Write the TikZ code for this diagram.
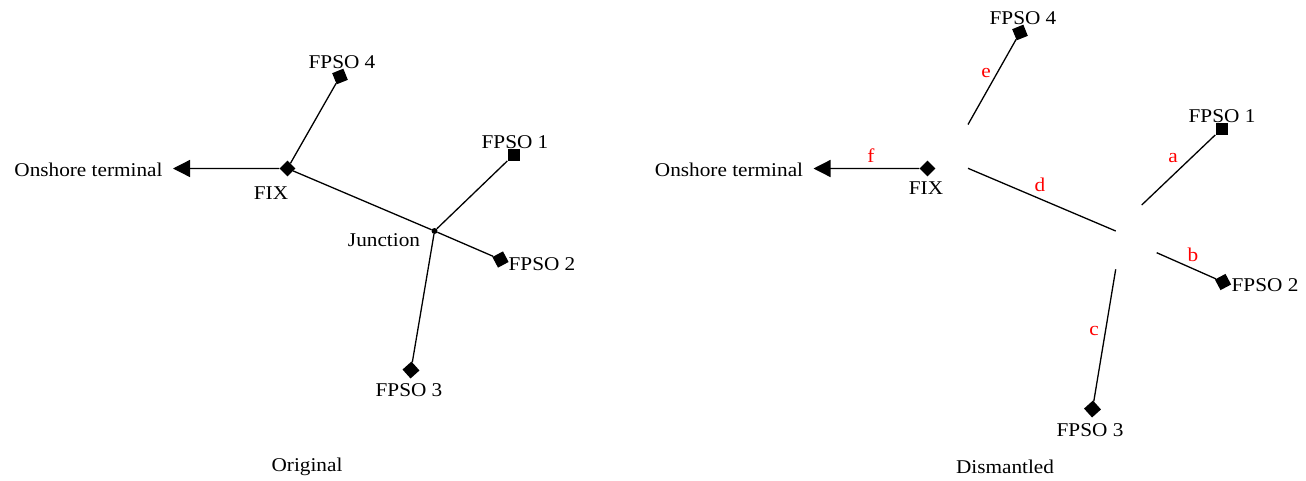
\documentclass[tikz,border=0pt]{standalone}
\usepackage{fontspec}
\setmainfont{Liberation Serif}[FakeStretch=1.09]
\usetikzlibrary{arrows.meta}
\begin{document}
\begin{tikzpicture}[x=1pt,y=-1pt,
  every node/.style={font=\fontsize{19.5}{22}\selectfont},
  lbl/.style={inner sep=0pt},
  red lbl/.style={inner sep=0pt,text=red},
  sqmark/.style={rectangle,fill=black,inner sep=0pt,minimum size=12pt},
  fixmark/.style={rectangle,fill=black,inner sep=0pt,minimum size=11pt,rotate=45},
  pipe/.style={line width=1.3pt},
  arr/.style={line width=1.3pt,-{Triangle[length=17pt,width=17pt]}}]
\useasboundingbox (0,0) rectangle (1306,480);
% ---------- Original ----------
\node[fixmark] (fixL) at (287.5,168.5) {};
\coordinate (tipL) at (173,168.5);
\node[circle,fill=black,inner sep=0pt,minimum size=6pt] (jun) at (434.5,231) {};
\node[sqmark,rotate=22] (f4L) at (340,76.5) {};
\node[sqmark] (f1L) at (513.5,155) {};
\node[sqmark,rotate=28] (f2L) at (500.5,259.5) {};
\node[sqmark,rotate=42] (f3L) at (411,370) {};
\draw[arr] (fixL) -- (tipL);
\draw[pipe] (fixL) -- (f4L);
\draw[pipe] (fixL) -- (jun);
\draw[pipe] (jun) -- (f1L);
\draw[pipe] (jun) -- (f2L);
\draw[pipe] (jun) -- (f3L);
\node[lbl] (onL) at (88.5,170) {Onshore terminal};
\node[lbl] (fixLl) at (271,193) {FIX};
\node[lbl] (f4Ll) at (342,62) {FPSO 4};
\node[lbl] (f1Ll) at (515,142) {FPSO 1};
\node[lbl] (junl) at (384,240) {Junction};
\node[lbl] (f2Ll) at (542,264) {FPSO 2};
\node[lbl] (f3Ll) at (409,390) {FPSO 3};
\node[lbl] (orig) at (307,467) {Original};
% ---------- Dismantled ----------
\node[fixmark] (fixR) at (927.5,168.5) {};
\coordinate (tipR) at (813.5,168.5);
\node[sqmark,rotate=22] (f4R) at (1020,32.5) {};
\node[sqmark] (f1R) at (1221.5,129) {};
\node[sqmark,rotate=28] (f2R) at (1223,282) {};
\node[sqmark,rotate=42] (f3R) at (1092.5,409) {};
\coordinate (eS) at (968,124.5);
\coordinate (dS) at (968,168.3);
\coordinate (dE) at (1115.7,231);
\coordinate (aS) at (1141.7,205);
\coordinate (bS) at (1156.7,252.7);
\coordinate (cS) at (1115.7,269.3);
\draw[arr] (fixR) -- (tipR);
\draw[pipe] (eS) -- (f4R);
\draw[pipe] (dS) -- (dE);
\draw[pipe] (aS) -- (f1R);
\draw[pipe] (bS) -- (f2R);
\draw[pipe] (cS) -- (f3R);
\node[lbl] (onR) at (729,170) {Onshore terminal};
\node[red lbl] (fl) at (871,156) {f};
\node[lbl] (fixRl) at (926,188) {FIX};
\node[lbl] (f4Rl) at (1023,18) {FPSO 4};
\node[red lbl] (el) at (986,73) {e};
\node[lbl] (f1Rl) at (1222,116) {FPSO 1};
\node[red lbl] (al) at (1173,158) {a};
\node[red lbl] (dl) at (1040,185) {d};
\node[red lbl] (bl) at (1193,255) {b};
\node[lbl] (f2Rl) at (1265,285) {FPSO 2};
\node[red lbl] (cl) at (1094,331) {c};
\node[lbl] (f3Rl) at (1090,430) {FPSO 3};
\node[lbl] (dism) at (1005,467) {Dismantled};
\end{tikzpicture}
\end{document}
